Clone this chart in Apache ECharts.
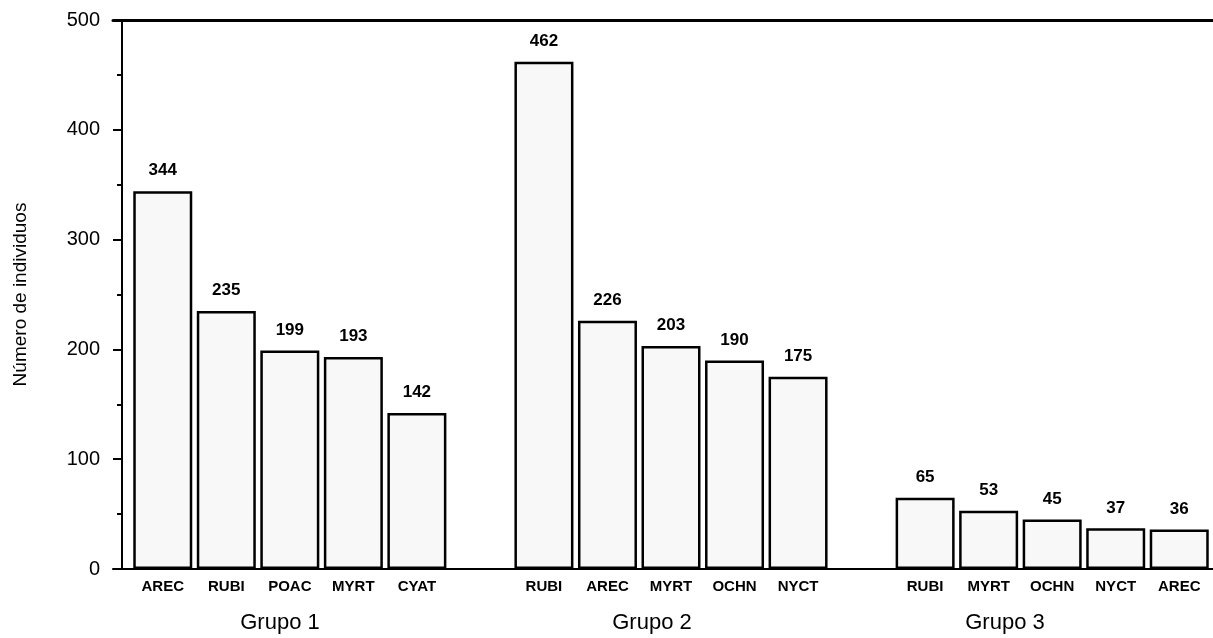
<!DOCTYPE html>
<html>
<head>
<meta charset="utf-8">
<script src="https://cdn.jsdelivr.net/npm/echarts@6/dist/echarts.min.js"></script>
<style>
  html, body { margin: 0; padding: 0; background: #fff; }
  #chart { width: 1213px; height: 638px; }
</style>
</head>
<body>
<div id="chart"></div>
<script>
// categories with an empty slot between groups
const categories = [
  'AREC', 'RUBI', 'POAC', 'MYRT', 'CYAT', '',
  'RUBI', 'AREC', 'MYRT', 'OCHN', 'NYCT', '',
  'RUBI', 'MYRT', 'OCHN', 'NYCT', 'AREC'
]
const values = [
  344, 235, 199, 193, 142, '-',
  462, 226, 203, 190, 175, '-',
  65, 53, 45, 37, 36
]
const groupNames = ['Grupo 1', 'Grupo 2', 'Grupo 3']
const groupCenters = [280, 652, 1005]
const yTicks = [0, 100, 200, 300, 400, 500]

const font = 'Arial, "Liberation Sans", sans-serif'
const chart = echarts.init(document.getElementById('chart'))

chart.setOption({
  backgroundColor: '#fff',
  animation: false,
  grid: [
    {left: 131, right: 2, top: 20, bottom: 69},
    {left: 113, right: 0, top: 20, bottom: 69},
  ],
  xAxis: [
    {
      type: 'category',
      gridIndex: 0,
      data: categories,
      axisLine: {show: false},
      axisTick: {show: false},
      axisLabel: {
        interval: 0,
        margin: 10,
        color: '#000',
        fontFamily: font,
        fontWeight: 'bold',
        fontSize: 15,
      },
    },
    {
      type: 'value',
      gridIndex: 1,
      position: 'bottom',
      axisLine: {show: true, lineStyle: {color: '#000', width: 2}},
      axisTick: {show: false},
      axisLabel: {show: false},
      splitLine: {show: false},
    },
    {
      type: 'value',
      gridIndex: 1,
      position: 'top',
      axisLine: {show: true, lineStyle: {color: '#000', width: 3}},
      axisTick: {show: false},
      axisLabel: {show: false},
      splitLine: {show: false},
    },
  ],
  yAxis: [
    {
      type: 'value',
      gridIndex: 0,
      min: yTicks[0],
      max: yTicks[yTicks.length - 1],
      interval: 100,
      offset: 9,
      name: 'Número de individuos',
      nameLocation: 'middle',
      nameGap: 92,
      nameTextStyle: {color: '#000', fontFamily: font, fontSize: 19},
      axisLine: {show: true, lineStyle: {color: '#000', width: 2}},
      axisTick: {show: true, length: 9, lineStyle: {color: '#000', width: 2}},
      minorTick: {show: true, splitNumber: 2, length: 5, lineStyle: {color: '#000', width: 2}},
      axisLabel: {
        margin: 22,
        color: '#000',
        fontFamily: font,
        fontSize: 20,
      },
      splitLine: {show: false},
    },
    {
      type: 'value',
      gridIndex: 1,
      show: false,
    },
  ],
  series: [{
    type: 'bar',
    xAxisIndex: 0,
    yAxisIndex: 0,
    data: values,
    barWidth: 59,
    itemStyle: {
      color: '#f8f8f8',
      borderColor: '#000',
      borderWidth: 2.5,
    },
    label: {
      show: true,
      position: 'top',
      distance: 12,
      color: '#000',
      fontFamily: font,
      fontWeight: 'bold',
      fontSize: 17,
    },
  }],
  graphic: groupNames.map((name, i) => ({
    type: 'text',
    x: groupCenters[i],
    y: 623,
    style: {
      text: name,
      fill: '#000',
      font: '22px ' + font,
      textAlign: 'center',
      textVerticalAlign: 'middle',
    },
  })),
})
</script>
</body>
</html>
